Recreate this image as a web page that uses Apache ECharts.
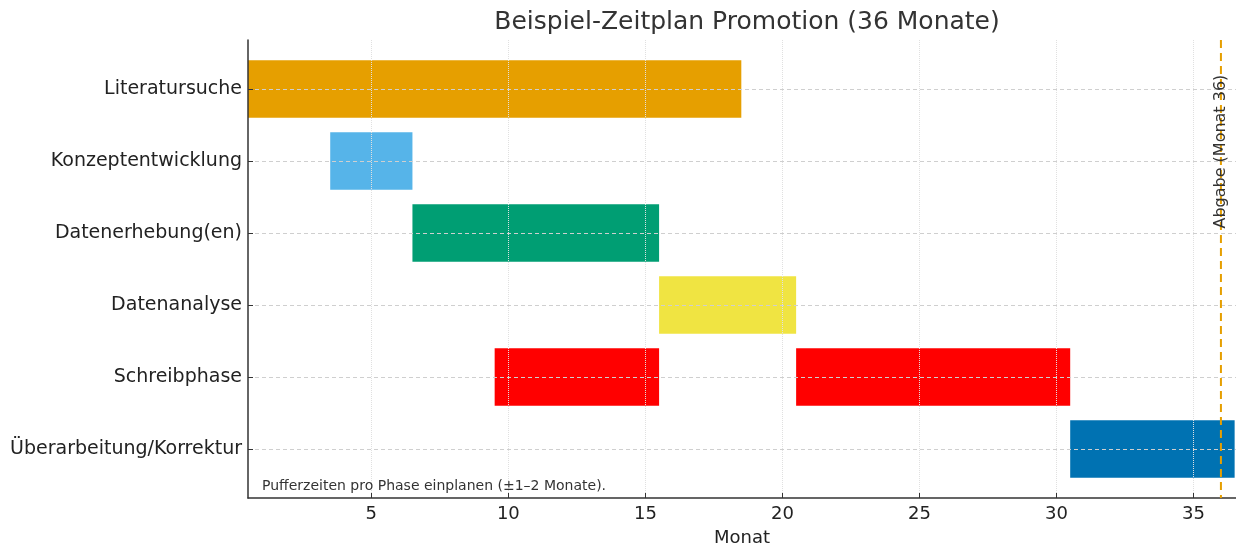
<!DOCTYPE html>
<html>
<head>
    <meta charset="utf-8">
    <title>Beispiel-Zeitplan Promotion</title>
    <script src="https://cdn.jsdelivr.net/npm/echarts@6/dist/echarts.min.js"></script>
    <style>
        html, body { margin: 0; padding: 0; background: #fff; }
        #main { width: 1236px; height: 548px; }
    </style>
</head>
<body>
<div id="main"></div>
<script>
    // Phasen (von oben nach unten)
    var phases = ['Literatursuche', 'Konzeptentwicklung', 'Datenerhebung(en)',
        'Datenanalyse', 'Schreibphase', 'Überarbeitung/Korrektur'];
    // Balken: Phase-Index, Beginn, Ende (in Monaten)
    var taskPhase = [0, 1, 2, 3, 4, 4, 5];
    var taskStart = [0.5, 3.5, 6.5, 15.5, 9.5, 20.5, 30.5];
    var taskEnd = [18.5, 6.5, 15.5, 20.5, 15.5, 30.5, 36.5];
    var monthTicks = [5, 10, 15, 20, 25, 30, 35];
    var deadlineMonth = 36;

    var phaseColors = ['#E69F00', '#56B4E9', '#009E73', '#F0E442', '#FF0000', '#0072B2'];
    var yMin = -0.68, yMax = 5.68;
    var font = 'DejaVu Sans';

    var tasks = [];
    for (var i = 0; i < taskPhase.length; i++) {
        tasks.push([taskStart[i], taskEnd[i], taskPhase[i]]);
    }

    var myChart = echarts.init(document.getElementById('main'));

    var option = {
        animation: false,
        title: {
            text: 'Beispiel-Zeitplan Promotion (36 Monate)',
            left: 742,
            textAlign: 'center',
            top: 5,
            textStyle: { fontFamily: font, fontSize: 25, fontWeight: 'normal', color: '#333' }
        },
        grid: { left: 248, right: 0, top: 40, bottom: 50, outerBoundsMode: 'none' },
        xAxis: {
            type: 'value',
            min: 0.5,
            max: 36.55,
            z: 5,
            name: 'Monat',
            nameLocation: 'middle',
            nameGap: 31,
            nameTextStyle: { fontFamily: font, fontSize: 18, color: '#222' },
            axisLine: { show: true, onZero: false, lineStyle: { color: '#333', width: 1.5 } },
            axisTick: { show: true, inside: true, length: 5, customValues: monthTicks,
                lineStyle: { color: '#333' } },
            axisLabel: { customValues: monthTicks, margin: 7,
                fontFamily: font, fontSize: 18, color: '#222' },
            splitLine: { show: true, lineStyle: { color: '#e0e0e0', type: 'dotted', width: 1 } }
        },
        yAxis: {
            type: 'value',
            inverse: true,
            min: yMin,
            max: yMax,
            z: 5,
            axisLine: { show: true, onZero: false, lineStyle: { color: '#333', width: 1.5 } },
            axisTick: { show: true, inside: true, length: 5, customValues: [0, 1, 2, 3, 4, 5],
                lineStyle: { color: '#333' } },
            axisLabel: {
                customValues: [0, 1, 2, 3, 4, 5],
                margin: 6,
                fontFamily: font, fontSize: 19, color: '#222',
                formatter: function (v) { return phases[Math.round(v)]; }
            },
            splitLine: { show: true, lineStyle: { color: '#cfcfcf', type: [4, 3], width: 1 } }
        },
        series: [
            {
                type: 'custom',
                z: 2,
                renderItem: function (params, api) {
                    var idx = api.value(2);
                    var p0 = api.coord([api.value(0), idx]);
                    var p1 = api.coord([api.value(1), idx]);
                    var h = api.size([0, 0.8])[1];
                    return {
                        type: 'rect',
                        shape: { x: p0[0], y: p0[1] - h / 2, width: p1[0] - p0[0], height: h },
                        style: { fill: phaseColors[idx] }
                    };
                },
                encode: { x: [0, 1], y: 2 },
                data: tasks
            },
            {
                type: 'line',
                z: 6,
                symbol: 'none',
                silent: true,
                lineStyle: { color: '#E69F00', width: 2, type: [8, 5] },
                data: [[deadlineMonth, yMin], [deadlineMonth, yMax]]
            }
        ]
    };
    myChart.setOption(option);

    // Beschriftungen an Daten-Koordinaten
    var labelPos = myChart.convertToPixel({ xAxisIndex: 0, yAxisIndex: 0 }, [deadlineMonth, 0.87]);
    myChart.setOption({
        graphic: [
            {
                type: 'text',
                x: labelPos[0],
                y: labelPos[1],
                rotation: Math.PI / 2,
                z: 10,
                style: {
                    text: 'Abgabe (Monat 36)',
                    fontFamily: font, fontSize: 16, fill: '#333',
                    align: 'center', verticalAlign: 'middle'
                }
            },
            {
                type: 'text',
                left: 262,
                top: 479,
                z: 10,
                style: {
                    text: 'Pufferzeiten pro Phase einplanen (±1–2 Monate).',
                    fontFamily: font, fontSize: 14, fill: '#333'
                }
            }
        ]
    });
</script>
</body>
</html>
